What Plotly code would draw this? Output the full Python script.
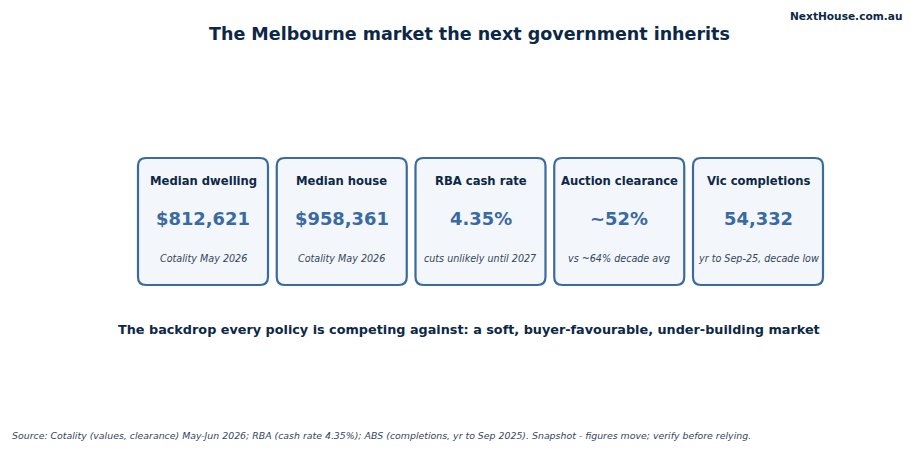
import plotly.graph_objects as go

labels = ["Median dwelling", "Median house", "RBA cash rate", "Auction clearance", "Vic completions"]
values = ["$812,621", "$958,361", "4.35%", "~52%", "54,332"]
notes = ["Cotality May 2026", "Cotality May 2026", "cuts unlikely until 2027", "vs ~64% decade avg", "yr to Sep-25, decade low"]

title = "The Melbourne market the next government inherits"
subtitle = "The backdrop every policy is competing against: a soft, buyer-favourable, under-building market"
brand = "NextHouse.com.au"
source = "Source: Cotality (values, clearance) May-Jun 2026; RBA (cash rate 4.35%); ABS (completions, yr to Sep 2025). Snapshot - figures move; verify before relying."

W, H = 915, 450
NAVY = "#0d2847"
BLUE = "#3a6a9f"
FILL = "#f3f6fa"
GREY = "#34465c"
FONT = "DejaVu Sans"

pxu = 138.75  # pixels per card unit
c0 = 203.0
xr = [-c0 / pxu, (W - c0) / pxu]

hw = 65 / pxu
y_top = 1 - 158 / H
y_bot = 1 - 285 / H
rx = 8 / pxu
ry = 8 / H

fig = go.Figure()
fig.add_trace(go.Scatter(x=list(range(len(labels))), y=[0.5] * len(labels), mode="markers",
                         marker=dict(opacity=0), hoverinfo="skip", showlegend=False))

shapes = []
annotations = []
for i, (lab, val, note) in enumerate(zip(labels, values, notes)):
    x0, x1 = i - hw, i + hw
    path = (f"M {x0+rx},{y_bot} L {x1-rx},{y_bot} Q {x1},{y_bot} {x1},{y_bot+ry} "
            f"L {x1},{y_top-ry} Q {x1},{y_top} {x1-rx},{y_top} "
            f"L {x0+rx},{y_top} Q {x0},{y_top} {x0},{y_top-ry} "
            f"L {x0},{y_bot+ry} Q {x0},{y_bot} {x0+rx},{y_bot} Z")
    shapes.append(dict(type="path", path=path, xref="x", yref="paper",
                       fillcolor=FILL, line=dict(color=BLUE, width=2.2), layer="below"))
    annotations.append(dict(x=i, y=1 - 181 / H, xref="x", yref="paper", text=f"<b>{lab}</b>",
                            showarrow=False, font=dict(family=FONT, size=11.6, color=NAVY),
                            xanchor="center", yanchor="middle"))
    annotations.append(dict(x=i, y=1 - 218 / H, xref="x", yref="paper", text=f"<b>{val}</b>",
                            showarrow=False, font=dict(family=FONT, size=17.9, color=BLUE),
                            xanchor="center", yanchor="middle"))
    annotations.append(dict(x=i, y=1 - 258 / H, xref="x", yref="paper", text=f"<i>{note}</i>",
                            showarrow=False, font=dict(family=FONT, size=9.6, color=GREY),
                            xanchor="center", yanchor="middle"))

annotations += [
    dict(x=469.5 / W, y=1 - 34 / H, xref="paper", yref="paper", text=f"<b>{title}</b>",
         showarrow=False, font=dict(family=FONT, size=17.5, color=NAVY), xanchor="center", yanchor="middle"),
    dict(x=469 / W, y=1 - 329 / H, xref="paper", yref="paper", text=f"<b>{subtitle}</b>",
         showarrow=False, font=dict(family=FONT, size=12.8, color=NAVY), xanchor="center", yanchor="middle"),
    dict(x=904 / W, y=1 - 15.5 / H, xref="paper", yref="paper", text=f"<b>{brand}</b>",
         showarrow=False, font=dict(family=FONT, size=10.6, color=NAVY), xanchor="right", yanchor="middle"),
    dict(x=10 / W, y=1 - 435 / H, xref="paper", yref="paper", text=f"<i>{source}</i>",
         showarrow=False, font=dict(family=FONT, size=9.4, color=GREY), xanchor="left", yanchor="middle"),
]

fig.update_layout(
    width=W, height=H, margin=dict(l=0, r=0, t=0, b=0),
    paper_bgcolor="white", plot_bgcolor="white",
    xaxis=dict(range=xr, visible=False, fixedrange=True),
    yaxis=dict(range=[0, 1], visible=False, fixedrange=True),
    shapes=shapes, annotations=annotations, showlegend=False,
)
fig.write_html("out.html", config={"displayModeBar": False},
               post_script="document.body.style.margin='0';document.body.style.overflow='hidden';")
